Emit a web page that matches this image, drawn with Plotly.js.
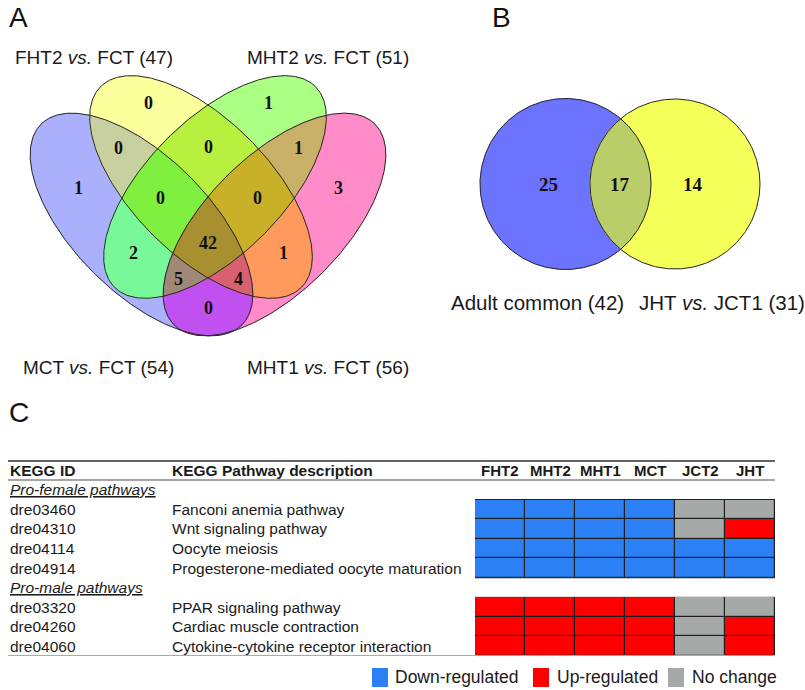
<!DOCTYPE html>
<html><head><meta charset="utf-8">
<script src="https://cdn.plot.ly/plotly-3.0.1.min.js"></script>
<style>html,body{margin:0;padding:0;background:#fff}#chart{width:805px;height:690px}</style>
</head><body><div id="chart"></div>
<script>
// ================= DATA =================
// Panel A: four-set Venn (sets A..D)
const vennASets = ['MCT', 'FHT2', 'MHT2', 'MHT1'];        // A blue, B yellow, C green, D pink
const vennAControl = 'FCT';
const vennATotals = [54, 47, 51, 56];
const vennARegions = ['A', 'B', 'C', 'D', 'AB', 'BC', 'CD', 'ABC', 'BCD', 'AC', 'ABCD', 'BD', 'ACD', 'ABD', 'AD'];
const vennACounts  = [1, 0, 1, 3, 0, 0, 1, 0, 0, 2, 42, 1, 5, 4, 0];

// Panel B: two-set Venn
const vennBSets = ['Adult common', 'JHT <i>vs.</i> JCT1'];
const vennBTotals = [42, 31];
const vennBRegions = ['A', 'AB', 'B'];
const vennBCounts = [25, 17, 14];

// Panel C: KEGG table
const groupLabels = ['Pro-female pathways', 'Pro-male pathways'];
const keggIds = ['dre03460', 'dre04310', 'dre04114', 'dre04914', 'dre03320', 'dre04260', 'dre04060'];
const keggDesc = ['Fanconi anemia pathway', 'Wnt signaling pathway', 'Oocyte meiosis',
  'Progesterone-mediated oocyte maturation', 'PPAR signaling pathway',
  'Cardiac muscle contraction', 'Cytokine-cytokine receptor interaction'];
const keggGroup = [0, 0, 0, 0, 1, 1, 1];
const sampleCols = ['FHT2', 'MHT2', 'MHT1', 'MCT', 'JCT2', 'JHT'];
const regulation = [
  ['down', 'down', 'down', 'down', 'none', 'none'],
  ['down', 'down', 'down', 'down', 'none', 'up'],
  ['down', 'down', 'down', 'down', 'down', 'down'],
  ['down', 'down', 'down', 'down', 'down', 'down'],
  ['up', 'up', 'up', 'up', 'none', 'none'],
  ['up', 'up', 'up', 'up', 'none', 'up'],
  ['up', 'up', 'up', 'up', 'none', 'up']
];
const regKeys = ['down', 'up', 'none'];
const regLabels = ['Down-regulated', 'Up-regulated', 'No change'];

// ================= STYLE / GEOMETRY =================
const W = 805, H = 690;
const px = v => v / W, py = v => 1 - v / H;
const regCode = {down: -1, none: 0, up: 1};
const regColor = {down: '#2a80f4', up: '#ff0000', none: '#a5aaa9'};
const txt = '#1a1a1a';
const serif = 'Liberation Serif, Times New Roman, serif';
const sans = 'Liberation Sans, Arial, sans-serif';

const ellA = {
  A: {cx: 141.5, cy: 224.5, a: 142, b: 68, rot: 45},
  B: {cx: 201,   cy: 187,   a: 142, b: 68, rot: 45},
  C: {cx: 215,   cy: 187,   a: 142, b: 68, rot: -45},
  D: {cx: 274.5, cy: 224.5, a: 142, b: 68, rot: -45}
};
// fill colour of each exclusive region
const regionColorA = {
  A: '#aab0fb', B: '#fbff9c', C: '#abff82', D: '#ff8cc8',
  AB: '#c8d0a0', BC: '#b8f040', CD: '#c8b068', AC: '#78f898', BD: '#ff9a5c', AD: '#c050f0',
  ABC: '#80f040', BCD: '#c8b028', ACD: '#a08878', ABD: '#d86070', ABCD: '#a89030'
};
const regionPosA = {
  A: [78, 188], B: [148, 103], C: [268, 103], D: [338, 188],
  AB: [118, 148], BC: [208, 147], CD: [298, 148],
  ABC: [160, 198], BCD: [257, 198], AC: [133, 253], ABCD: [208, 243], BD: [283, 253],
  ACD: [178, 279], ABD: [238, 279], AD: [208, 308]
};
const setLabelPosA = {A: [21, 367], B: [13, 57], C: [245, 57], D: [245, 367]};

const circB = {
  A: {cx: 565.5, cy: 184, a: 85.5, b: 85.5, rot: 0},
  B: {cx: 675,   cy: 184, a: 85,   b: 85,   rot: 0}
};
const regionColorB = {A: '#6b73ff', B: '#f5ff5a', AB: '#b9cd69'};
const regionPosB = {A: [548, 184], AB: [620, 184], B: [693, 184]};
const setLabelPosB = [[449, 302], [637, 302]];

// ================= GEOMETRY HELPERS =================
function ellipsePoly(e) {
  const pts = [], r = e.rot * Math.PI / 180, n = 360;
  for (let k = 0; k < n; k++) {
    const t = k / n * 2 * Math.PI;
    pts.push([e.cx + e.a * Math.cos(t) * Math.cos(r) - e.b * Math.sin(t) * Math.sin(r),
              e.cy + e.a * Math.cos(t) * Math.sin(r) + e.b * Math.sin(t) * Math.cos(r)]);
  }
  return pts;
}
function signedArea(P) {
  let s = 0;
  for (let i = 0; i < P.length; i++) { const a = P[i], b = P[(i + 1) % P.length]; s += a[0] * b[1] - b[0] * a[1]; }
  return s / 2;
}
// Sutherland-Hodgman: clip polygon subj by convex polygon clipP
function clipConvex(subj, clipP) {
  let out = subj;
  const sg = Math.sign(signedArea(clipP));
  for (let i = 0; i < clipP.length && out.length; i++) {
    const a = clipP[i], b = clipP[(i + 1) % clipP.length];
    const inside = p => sg * ((b[0] - a[0]) * (p[1] - a[1]) - (b[1] - a[1]) * (p[0] - a[0])) >= 0;
    const inter = (p, q) => {
      const den = (p[0] - q[0]) * (a[1] - b[1]) - (p[1] - q[1]) * (a[0] - b[0]);
      const t = ((p[0] - a[0]) * (a[1] - b[1]) - (p[1] - a[1]) * (a[0] - b[0])) / den;
      return [p[0] + t * (q[0] - p[0]), p[1] + t * (q[1] - p[1])];
    };
    const inp = out; out = [];
    for (let j = 0; j < inp.length; j++) {
      const cur = inp[j], prev = inp[(j + inp.length - 1) % inp.length];
      const ci = inside(cur), pi = inside(prev);
      if (ci) { if (!pi) out.push(inter(prev, cur)); out.push(cur); }
      else if (pi) out.push(inter(prev, cur));
    }
  }
  return out;
}
// paint every set intersection (small to large) so each exclusive region ends with its own colour
function vennTraces(shapesDef, colors) {
  const polys = {};
  Object.keys(shapesDef).forEach(k => polys[k] = ellipsePoly(shapesDef[k]));
  const keys = Object.keys(colors).sort((p, q) => p.length - q.length);
  const out = [];
  keys.forEach(key => {
    let P = polys[key[0]];
    for (let i = 1; i < key.length; i++) P = clipConvex(P, polys[key[i]]);
    if (P.length < 3) return;
    out.push({type: 'scatter', mode: 'lines', x: P.map(p => p[0]).concat([P[0][0]]), y: P.map(p => p[1]).concat([P[0][1]]),
      fill: 'toself', fillcolor: colors[key], line: {width: 0.6, color: colors[key]}, hoverinfo: 'skip',
      xaxis: 'x', yaxis: 'y', showlegend: false});
  });
  Object.keys(polys).forEach(k => {
    const P = polys[k];
    out.push({type: 'scatter', mode: 'lines', x: P.map(p => p[0]).concat([P[0][0]]), y: P.map(p => p[1]).concat([P[0][1]]),
      line: {color: '#262626', width: 1}, hoverinfo: 'skip', xaxis: 'x', yaxis: 'y', showlegend: false});
  });
  return out;
}

// ================= BUILD =================
const traces = [].concat(vennTraces(ellA, regionColorA), vennTraces(circB, regionColorB));

// table rows: group header row followed by its pathways
const rowItems = [];
groupLabels.forEach((g, gi) => {
  rowItems.push({kind: 'group', label: g});
  keggIds.forEach((id, i) => { if (keggGroup[i] === gi) rowItems.push({kind: 'path', i}); });
});
const zRows = rowItems.map(r => r.kind === 'group' ? sampleCols.map(() => null)
  : regulation[r.i].map(v => regCode[v]));
traces.push({type: 'heatmap', x: sampleCols.map((_, j) => j), y: rowItems.map((_, i) => i), z: zRows,
  zmin: -1, zmax: 1, xgap: 1.2, ygap: 1.2, showscale: false, hoverinfo: 'skip',
  colorscale: [[0, regColor.down], [0.333, regColor.down], [0.334, regColor.none], [0.666, regColor.none],
    [0.667, regColor.up], [1, regColor.up]],
  xaxis: 'x2', yaxis: 'y2'});

const ann = [];
const A = (o) => ann.push(Object.assign({showarrow: false, font: {family: sans, size: 15.5, color: txt}}, o));

// panel letters
A({text: 'A', xref: 'paper', yref: 'paper', x: px(7), y: py(18), xanchor: 'left', yanchor: 'middle', font: {family: sans, size: 28, color: '#111'}});
A({text: 'B', xref: 'paper', yref: 'paper', x: px(490), y: py(18), xanchor: 'left', yanchor: 'middle', font: {family: sans, size: 28, color: '#111'}});
A({text: 'C', xref: 'paper', yref: 'paper', x: px(7), y: py(413), xanchor: 'left', yanchor: 'middle', font: {family: sans, size: 28, color: '#111'}});

// Venn A
['A', 'B', 'C', 'D'].forEach((k, i) => {
  const p = setLabelPosA[k];
  A({text: vennASets[i] + ' <i>vs.</i> ' + vennAControl + ' (' + vennATotals[i] + ')', xref: 'x', yref: 'y',
    x: p[0], y: p[1], xanchor: 'left', yanchor: 'middle', font: {family: sans, size: 19, color: txt}});
});
vennARegions.forEach((k, i) => {
  const p = regionPosA[k];
  A({text: String(vennACounts[i]), xref: 'x', yref: 'y', x: p[0], y: p[1], xanchor: 'center', yanchor: 'middle',
    font: {family: serif, size: 18, color: '#111', weight: 'bold'}});
});
// Venn B
vennBSets.forEach((s, i) => {
  const p = setLabelPosB[i];
  A({text: s + ' (' + vennBTotals[i] + ')', xref: 'x', yref: 'y', x: p[0], y: p[1], xanchor: 'left', yanchor: 'middle',
    font: {family: sans, size: 20.5, color: txt}});
});
vennBRegions.forEach((k, i) => {
  const p = regionPosB[k];
  A({text: String(vennBCounts[i]), xref: 'x', yref: 'y', x: p[0], y: p[1], xanchor: 'center', yanchor: 'middle',
    font: {family: serif, size: 19, color: '#111', weight: 'bold'}});
});

// Table header
A({text: '<b>KEGG ID</b>', xref: 'paper', yref: 'paper', x: px(8), y: py(471), xanchor: 'left', yanchor: 'middle'});
A({text: '<b>KEGG Pathway description</b>', xref: 'paper', yref: 'paper', x: px(170), y: py(471), xanchor: 'left', yanchor: 'middle'});
sampleCols.forEach((c, j) => A({text: '<b>' + c + '</b>', xref: 'x2', yref: 'paper', x: j, y: py(471), xanchor: 'center', yanchor: 'middle',
  font: {family: sans, size: 15, color: txt}}));
// rows
rowItems.forEach((r, i) => {
  if (r.kind === 'group') {
    A({text: '<i><span style="text-decoration:underline">' + r.label + '</span></i>', xref: 'paper', yref: 'y2', x: px(8), y: i, xanchor: 'left', yanchor: 'middle'});
  } else {
    A({text: keggIds[r.i], xref: 'paper', yref: 'y2', x: px(8), y: i, xanchor: 'left', yanchor: 'middle'});
    A({text: keggDesc[r.i], xref: 'paper', yref: 'y2', x: px(170), y: i, xanchor: 'left', yanchor: 'middle'});
  }
});

// legend
const legX = [[372, 393], [533, 555], [668, 690]];
const shapes = [];
regKeys.forEach((k, i) => {
  shapes.push({type: 'rect', xref: 'paper', yref: 'paper', x0: px(legX[i][0]), x1: px(legX[i][0] + 16), y0: py(668), y1: py(687),
    fillcolor: regColor[k], line: {width: 0}});
  A({text: regLabels[i], xref: 'paper', yref: 'paper', x: px(legX[i][1]), y: py(677), xanchor: 'left', yanchor: 'middle',
    font: {family: sans, size: 17.5, color: txt}});
});

// table rules
shapes.push({type: 'line', xref: 'paper', yref: 'paper', x0: px(8), x1: px(775), y0: py(461), y1: py(461), line: {color: '#333', width: 1.5}});
shapes.push({type: 'line', xref: 'paper', yref: 'paper', x0: px(8), x1: px(775), y0: py(480), y1: py(480), line: {color: '#888', width: 1.5}});
shapes.push({type: 'line', xref: 'paper', yref: 'paper', x0: px(8), x1: px(775), y0: py(655.5), y1: py(655.5), line: {color: '#aaa', width: 1}});
// dark backing for cell borders (one block per group)
let start = null;
rowItems.forEach((r, i) => {
  const isEnd = i === rowItems.length - 1 || rowItems[i + 1].kind === 'group';
  if (r.kind === 'path' && start === null) start = i;
  if (r.kind === 'path' && isEnd) {
    shapes.push({type: 'rect', xref: 'x2', yref: 'y2', x0: -0.5, x1: sampleCols.length - 0.5, y0: start - 0.5, y1: i + 0.5,
      fillcolor: '#1e1e1e', line: {color: '#1e1e1e', width: 1}, layer: 'below'});
    start = null;
  }
});

const layout = {
  width: W, height: H, margin: {l: 0, r: 0, t: 0, b: 0},
  paper_bgcolor: '#fff', plot_bgcolor: 'rgba(0,0,0,0)', showlegend: false, hovermode: false,
  xaxis: {domain: [0, 1], range: [0, W], visible: false, fixedrange: true},
  yaxis: {domain: [0, 1], range: [H, 0], visible: false, fixedrange: true},
  xaxis2: {domain: [px(475), px(775)], range: [-0.5, sampleCols.length - 0.5], visible: false, anchor: 'y2', fixedrange: true},
  yaxis2: {domain: [py(656), py(480)], range: [rowItems.length - 0.5, -0.5], visible: false, anchor: 'x2', fixedrange: true},
  annotations: ann, shapes: shapes
};
Plotly.newPlot('chart', traces, layout, {staticPlot: true, displayModeBar: false});
</script></body></html>
